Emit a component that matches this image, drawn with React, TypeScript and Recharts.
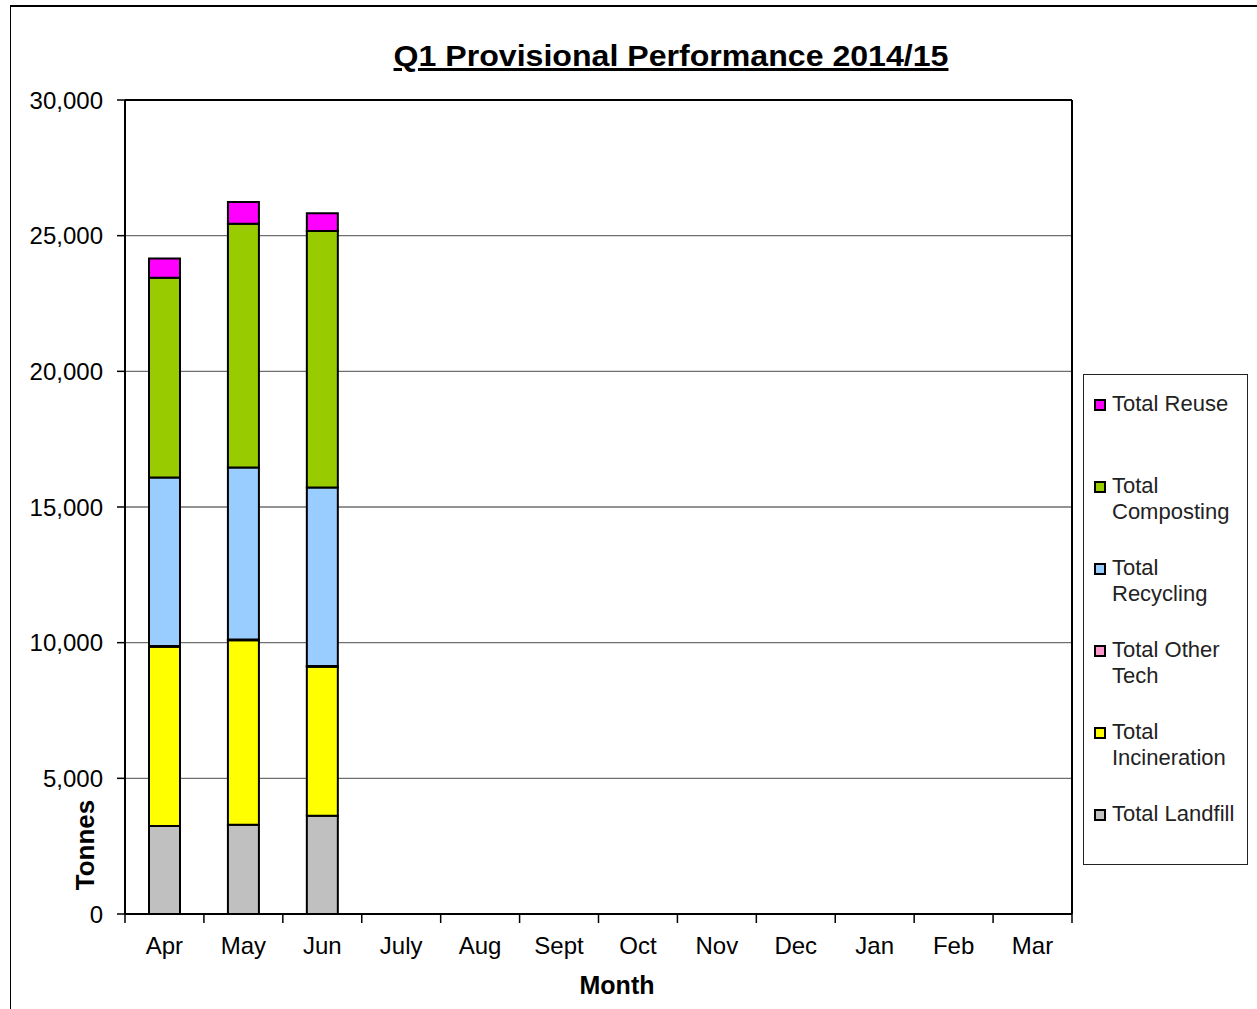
import { BarChart, Bar, XAxis, YAxis, CartesianGrid, ReferenceLine } from 'recharts'

const MONTHS = ['Apr', 'May', 'Jun', 'July', 'Aug', 'Sept', 'Oct', 'Nov', 'Dec', 'Jan', 'Feb', 'Mar']
const LANDFILL = [3240, 3290, 3620]
const INCINERATION = [6610, 6800, 5490]
const OTHER_TECH = [30, 30, 30]
const RECYCLING = [6210, 6340, 6580]
const COMPOSTING = [7360, 8980, 9450]
const REUSE = [710, 800, 660]
const Y_TICKS = [0, 5000, 10000, 15000, 20000, 25000, 30000]

const SERIES = [
  { key: 'landfill', name: 'Total Landfill', color: '#C0C0C0', values: LANDFILL },
  { key: 'incineration', name: 'Total Incineration', color: '#FFFF00', values: INCINERATION },
  { key: 'otherTech', name: 'Total Other Tech', color: '#FF99CC', values: OTHER_TECH },
  { key: 'recycling', name: 'Total Recycling', color: '#99CCFF', values: RECYCLING },
  { key: 'composting', name: 'Total Composting', color: '#99CC00', values: COMPOSTING },
  { key: 'reuse', name: 'Total Reuse', color: '#FF00FF', values: REUSE },
]

const data = MONTHS.map((month, i) => {
  const row: Record<string, string | number | undefined> = { month }
  SERIES.forEach((s) => {
    row[s.key] = s.values[i]
  })
  return row
})

const FONT = '"Liberation Sans", Arial, sans-serif'

function MonthTick({ x, y, payload }: any) {
  const half = payload.offset ?? 39.5
  const last = payload.index === MONTHS.length - 1
  return (
    <g>
      <line x1={x - half} x2={x - half} y1={y} y2={y + 9} stroke="#000" strokeWidth={1.5} />
      {last && <line x1={x + half} x2={x + half} y1={y} y2={y + 9} stroke="#000" strokeWidth={1.5} />}
      <text x={x} y={y + 40} textAnchor="middle" fontSize={24} fill="#000" fontFamily={FONT}>
        {payload.value}
      </text>
    </g>
  )
}

export default function App() {
  return (
    <div style={{ position: 'absolute', left: 0, top: 0, width: 1257, height: 1009, background: '#fff', fontFamily: FONT }}>
      <div
        style={{
          position: 'absolute',
          left: 10,
          top: 5,
          width: 1247,
          height: 1004,
          borderTop: '2px solid #000',
          borderLeft: '1.5px solid #000',
        }}
      />
      <div
        style={{
          position: 'absolute',
          left: 671,
          top: 39,
          transform: 'translateX(-50%) scaleX(1.07)',
          whiteSpace: 'nowrap',
          fontSize: 30,
          fontWeight: 'bold',
          textDecoration: 'underline',
          color: '#000',
        }}
      >
        Q1 Provisional Performance 2014/15
      </div>
      <BarChart
        width={1257}
        height={1009}
        data={data}
        margin={{ top: 100, right: 185, bottom: 45, left: 25 }}
        barSize={31}
      >
        <CartesianGrid vertical={false} stroke="#6f6f6f" strokeWidth={1.3} />
        <XAxis
          dataKey="month"
          height={50}
          interval={0}
          tickSize={0}
          tickMargin={0}
          axisLine={{ stroke: '#000', strokeWidth: 2 }}
          tickLine={false}
          tick={<MonthTick />}
          label={{
            content: () => (
              <text x={617} y={994} textAnchor="middle" fontSize={25} fontWeight="bold" fill="#000" fontFamily={FONT}>
                Month
              </text>
            ),
          }}
        />
        <YAxis
          width={100}
          domain={[0, 30000]}
          ticks={Y_TICKS}
          interval={0}
          tickSize={8}
          tickMargin={14}
          axisLine={{ stroke: '#000', strokeWidth: 2 }}
          tickLine={{ stroke: '#000', strokeWidth: 1.5 }}
          tick={{ fill: '#000', fontSize: 24, fontFamily: FONT }}
          tickFormatter={(v: number) => v.toLocaleString('en-US')}
          label={{
            content: () => (
              <text
                x={0}
                y={0}
                transform="translate(94 845) rotate(-90)"
                textAnchor="middle"
                fontSize={26}
                fontWeight="bold"
                fill="#000"
                fontFamily={FONT}
              >
                Tonnes
              </text>
            ),
          }}
        />
        <ReferenceLine y={30000} stroke="#000" strokeWidth={2} />
        <ReferenceLine x="Mar" position="end" stroke="#000" strokeWidth={2} />
        {SERIES.map((s) => (
          <Bar
            key={s.key}
            dataKey={s.key}
            name={s.name}
            stackId="a"
            fill={s.color}
            stroke="#000"
            strokeWidth={2}
            isAnimationActive={false}
          />
        ))}
      </BarChart>
      <div
        style={{
          position: 'absolute',
          left: 1083,
          top: 374,
          width: 165,
          height: 491,
          border: '1px solid #222',
          boxSizing: 'border-box',
        }}
      >
        {[...SERIES].reverse().map((s, i) => (
          <div
            key={s.key}
            style={{ position: 'absolute', left: 10, top: 16 + i * 82, display: 'flex', alignItems: 'flex-start' }}
          >
            <span
              style={{
                width: 8,
                height: 8,
                marginTop: 8,
                border: '2px solid #000',
                background: s.color,
                flexShrink: 0,
              }}
            />
            <span style={{ marginLeft: 6, width: 138, fontSize: 22, lineHeight: '26px', color: '#222' }}>{s.name}</span>
          </div>
        ))}
      </div>
    </div>
  )
}
